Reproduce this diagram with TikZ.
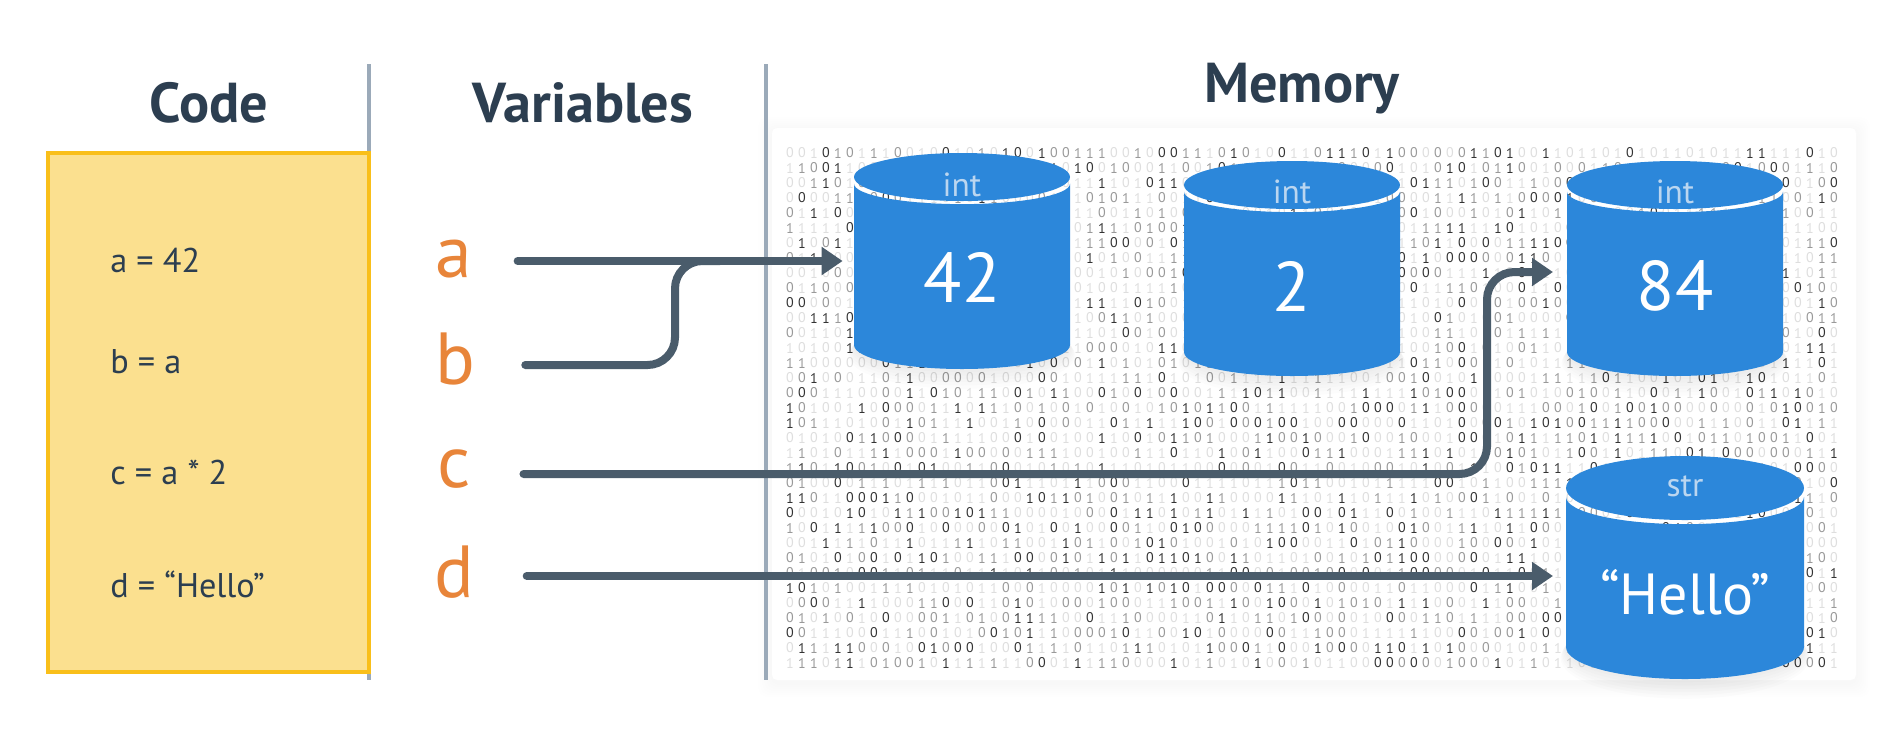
\documentclass[tikz,border=0pt]{standalone}
\usepackage{fontspec}
\setmainfont{PT Sans}
\usetikzlibrary{positioning,
        shapes,
        arrows.meta}
\definecolor{titlecol}{HTML}{2C3E50}
\definecolor{rulecol}{HTML}{9BAAB9}
\definecolor{codefill}{HTML}{FBE08F}
\definecolor{codeedge}{HTML}{F9BF1A}
\definecolor{varcol}{HTML}{E8853A}
\definecolor{wirecol}{HTML}{4A5C6B}
\definecolor{cylcol}{HTML}{2C87DA}
\definecolor{cyllabel}{HTML}{BBD6F0}
\tikzset{
    title/.style={font=\fontsize{32}{32}\selectfont\bfseries,text=titlecol,inner sep=0pt},
    codeline/.style={font=\fontsize{19.5}{20}\selectfont,text=titlecol,anchor=west,inner sep=0pt},
    varname/.style={font=\fontsize{42}{42}\selectfont,text=varcol,inner sep=0pt},
    wire/.style={draw=wirecol,line width=.16cm,line cap=round,-{Triangle[length=.42cm,width=.54cm]}},
    divider/.style={draw=rulecol,line width=.08cm},
    bit/.style={font=\fontsize{8}{8}\selectfont,inner sep=0pt},
    cyltype/.style={font=\fontsize{19}{19}\selectfont,text=cyllabel,inner sep=0pt},
    cylvalue/.style={font=\fontsize{40}{40}\selectfont,text=white,inner sep=0pt}
}
% name, centre x, lid centre y, half width, lid radius, side end y
\newcommand{\datacyl}[6]{
    \foreach \s in {3,6,...,18}
        \fill[black,opacity=.01] (#2,{#6+\s*.6}) ellipse [x radius={#4+\s*.3},y radius={#5+\s*.5}];
    \fill[cylcol] ({#2-#4},{#3+.28*#5}) arc [start angle=180,end angle=0,x radius=#4,y radius={.85*#5}]
        -- ({#2+#4},#6) arc [start angle=0,end angle=180,x radius=#4,y radius=#5] -- cycle;
    \fill[cylcol] (#2,#3) ellipse [x radius=#4,y radius=#5];
    \node [minimum width={2*#4*.02cm},minimum height={(#6+#5-#3+#5)*.02cm},inner sep=0pt] (#1) at (#2,{(#3-#5+#6+#5)/2}) {};
}

\begin{document}
\begin{tikzpicture}[x=.02cm,y=-.02cm]
    \useasboundingbox (0,0) rectangle (1904,728);

    % panel of the memory column
    \foreach \s in {2,4,...,14}
        \fill[black,opacity=.003,rounded corners=.2cm] ({772-\s},{128-\s+3}) rectangle ({1856+\s},{680+\s+3});
    \fill[white,rounded corners=.1cm] (772,128) rectangle (1856,680);
    \pgfmathsetseed{1942}
    \foreach \r in {0,...,34}
        \foreach \c in {0,...,87} {
            \pgfmathrandominteger{\bitval}{0}{1}
            \pgfmathrandominteger{\bitlevel}{0}{9}
            \ifnum\bitlevel<5 \def\bitshade{13}\else\ifnum\bitlevel<8 \def\bitshade{40}\else\def\bitshade{80}\fi\fi
            \node [bit,text=black!\bitshade] at ({790+12*\c},{153+15*\r}) {\bitval};
        }

    \draw [divider] (369,64) -- (369,680);
    \draw [divider] (766,64) -- (766,680);

    \node [title] (codehead) at (209,103) {Code};
    \node [title] (varhead) at (583,103) {Variables};
    \node [title] (memhead) at (1302,89) {Memory};

    \draw [draw=codeedge,fill=codefill,line width=.08cm] (48,153) rectangle (369,672);
    \node [codeline] (linea) at (110,260) {a = 42};
    \node [codeline] (lineb) at (110,362) {b = a};
    \node [codeline] (linec) at (110,472) {c = a * 2};
    \node [codeline] (lined) at (110,584) {d = “Hello”};

    \node [varname] (vara) at (454,259) {a};
    \node [varname] (varb) at (455,359) {b};
    \node [varname] (varc) at (454,469) {c};
    \node [varname] (vard) at (454,572) {d};

    \datacyl{cylA}{962}{177}{108}{24}{345}
    \datacyl{cylB}{1292}{185}{108}{24}{352}
    \datacyl{cylC}{1675}{185}{108}{24}{352}
    \datacyl{cylD}{1685}{488}{119}{32}{647}

    \node [cyltype] (typeA) at (962,185) {int};
    \node [cyltype] (typeB) at (1292,192) {int};
    \node [cyltype] (typeC) at (1675,192) {int};
    \node [cyltype] (typeD) at (1685,486) {str};
    \node [cylvalue] (valA) at (962,277) {42};
    \node [cylvalue] (valB) at (1292,286) {2};
    \node [cylvalue] (valC) at (1675,286) {84};
    \node [cylvalue,font=\fontsize{33}{33}\selectfont] (valD) at (1685,592) {“Hello”};

    \coordinate (jogb) at (675,365);
    \coordinate (merge) at (720,261);
    \coordinate (jogc) at (1487,474);
    \coordinate (inC) at (1553,272);
    \coordinate (inD) at (1553,576);

    \draw [wire,shorten <=.9cm,shorten >=.22cm] (vara.east |- cylA.west) -- (cylA.west);
    \draw [wire,-,rounded corners=.55cm,shorten <=1cm] (varb.east |- jogb) -- (jogb) |- (merge);
    \draw [wire,rounded corners=.55cm,shorten <=1.05cm] (varc.east |- jogc) -- (jogc) |- (inC);
    \draw [wire,shorten <=1.05cm] (vard.east |- inD) -- (inD);
\end{tikzpicture}
\end{document}
